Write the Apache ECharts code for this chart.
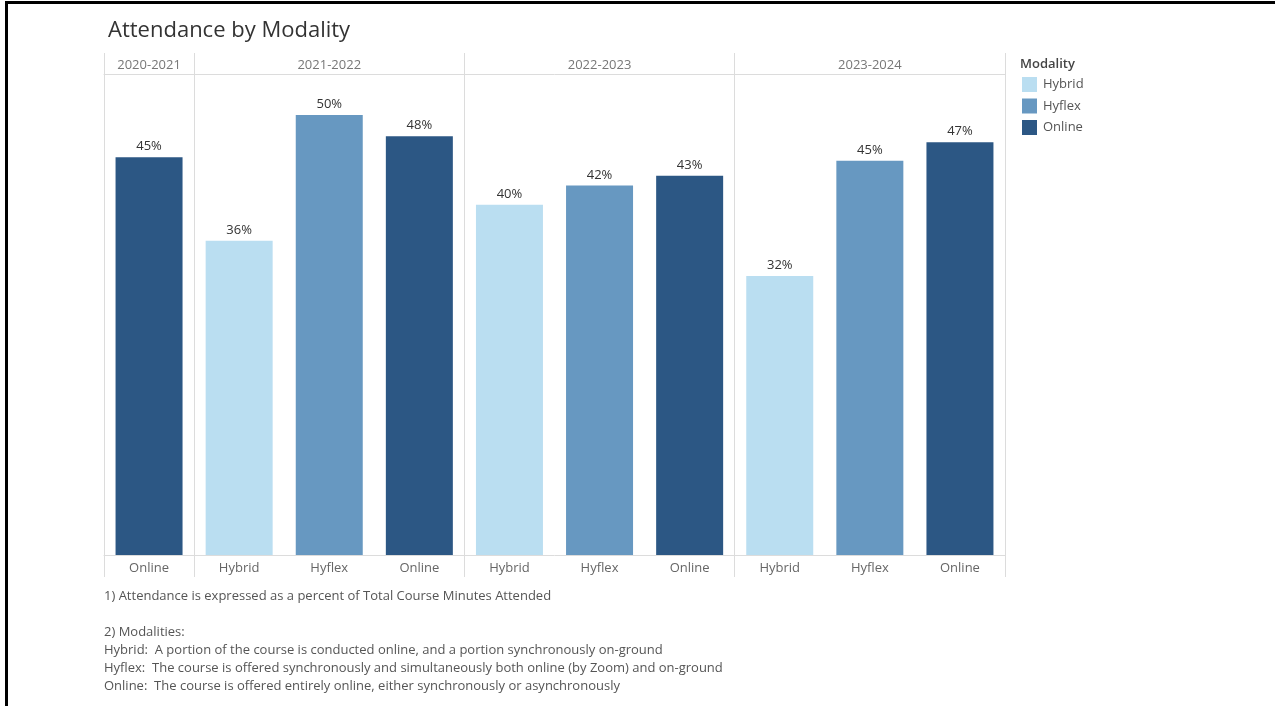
<!DOCTYPE html>
<html>
<head>
<meta charset="utf-8">
<title>Attendance by Modality</title>
<script src="https://cdn.jsdelivr.net/npm/echarts@6/dist/echarts.min.js"></script>
<style>
  html, body { margin: 0; padding: 0; background: #ffffff; }
  #chart { width: 1275px; height: 706px; }
</style>
</head>
<body>
<div id="chart"></div>
<script>
// Academic years and the modality slots shown under each year
const years = ['2020-2021', '2021-2022', '2022-2023', '2023-2024'];
const yearSlots = [
  ['Online'],
  ['Hybrid', 'Hyflex', 'Online'],
  ['Hybrid', 'Hyflex', 'Online'],
  ['Hybrid', 'Hyflex', 'Online']
];
// Attendance (% of total course minutes attended), per year, in slot order
const attendance = [
  [45.2],
  [35.7, 50.0, 47.6],
  [39.8, 42.0, 43.1],
  [31.7, 44.8, 46.9]
];
const modalities = ['Hybrid', 'Hyflex', 'Online'];
const modalityColors = ['#badef1', '#6798c1', '#2c5784'];

const footnotes = [
  '1) Attendance is expressed as a percent of Total Course Minutes Attended',
  '',
  '2) Modalities:',
  'Hybrid:  A portion of the course is conducted online, and a portion synchronously on-ground',
  'Hyflex:  The course is offered synchronously and simultaneously both online (by Zoom) and on-ground',
  'Online:  The course is offered entirely online, either synchronously or asynchronously'
];

// Flatten year/modality pairs into one category per bar
const categories = [];
const headerLabels = [];
const panelStarts = [];
const seriesData = modalities.map(() => []);
yearSlots.forEach((slots, yi) => {
  panelStarts.push(categories.length);
  const mid = categories.length + Math.floor((slots.length - 1) / 2);
  slots.forEach((m, si) => {
    categories.push(m);
    headerLabels.push('');
    modalities.forEach((mod, mi) => {
      seriesData[mi].push(mod === m ? attendance[yi][si] : null);
    });
  });
  headerLabels[mid] = years[yi];
});
panelStarts.push(categories.length);
const isPanelEdge = (i) => panelStarts.indexOf(i) !== -1;

const FONT = '"Open Sans", "Noto Sans", sans-serif';
const GRID_LINE = '#dcdcdc';

const chart = echarts.init(document.getElementById('chart'), null, { renderer: 'canvas' });

const series = modalities.map((name, mi) => ({
  name: name,
  type: 'bar',
  stack: 'slot',
  barWidth: 67,
  data: seriesData[mi],
  itemStyle: { color: modalityColors[mi] },
  label: {
    show: true,
    position: 'top',
    distance: 4,
    color: '#333333',
    fontFamily: FONT,
    fontSize: 13,
    formatter: (p) => (p.value == null ? '' : Math.round(p.value) + '%')
  },
  emphasis: { disabled: true }
}));

const footGraphics = footnotes.map((t, i) => ({
  type: 'text',
  left: 104,
  top: 590 + i * 18,
  style: { text: t, fill: '#555555', font: '13px ' + FONT }
}));

chart.setOption({
  animation: false,
  backgroundColor: '#ffffff',
  title: {
    text: 'Attendance by Modality',
    left: 103,
    top: 15,
    textStyle: { color: '#333333', fontFamily: FONT, fontSize: 22, fontWeight: 'normal' }
  },
  legend: {
    orient: 'vertical',
    left: 1022,
    top: 77,
    padding: 0,
    icon: 'rect',
    itemWidth: 15,
    itemHeight: 15,
    itemGap: 6.5,
    data: modalities,
    textStyle: { color: '#555555', fontFamily: FONT, fontSize: 13, padding: [0, 0, 0, 1] },
    selectedMode: false
  },
  grid: { left: 104, right: 270, top: 74, bottom: 151, containLabel: false },
  xAxis: [
    {
      type: 'category',
      data: categories,
      position: 'bottom',
      axisLine: { show: true, lineStyle: { color: GRID_LINE, width: 1 } },
      axisTick: {
        show: true,
        length: 22,
        interval: 0,
        lineStyle: { color: GRID_LINE }
      },
      axisLabel: { color: '#666666', fontFamily: FONT, fontSize: 13, margin: 7, interval: 0 },
      splitLine: {
        show: true,
        interval: (i) => isPanelEdge(i),
        lineStyle: { color: GRID_LINE, width: 1 }
      }
    },
    {
      type: 'category',
      data: headerLabels,
      position: 'top',
      axisLine: { show: true, lineStyle: { color: GRID_LINE, width: 1 } },
      axisTick: { show: true, length: 21, interval: 0, lineStyle: { color: GRID_LINE } },
      axisLabel: { color: '#777777', fontFamily: FONT, fontSize: 13, margin: 2, interval: 0 },
      splitLine: { show: false }
    }
  ],
  yAxis: { type: 'value', min: 0, max: 54.66, show: false, splitLine: { show: false } },
  series: series,
  graphic: [
    { type: 'rect', shape: { x: 5, y: 1, width: 1270, height: 3 }, style: { fill: '#000000' }, silent: true },
    { type: 'rect', shape: { x: 5, y: 1, width: 3, height: 705 }, style: { fill: '#000000' }, silent: true },
    {
      type: 'text', left: 1020, top: 58,
      style: { text: 'Modality', fill: '#444444', font: '600 13px ' + FONT }
    }
  ].concat(footGraphics)
});

// Keep axis ticks only on the year panel boundaries
chart.setOption({
  xAxis: [
    { axisTick: { interval: (i) => isPanelEdge(i) } },
    { axisTick: { interval: (i) => isPanelEdge(i) } }
  ]
});
</script>
</body>
</html>
